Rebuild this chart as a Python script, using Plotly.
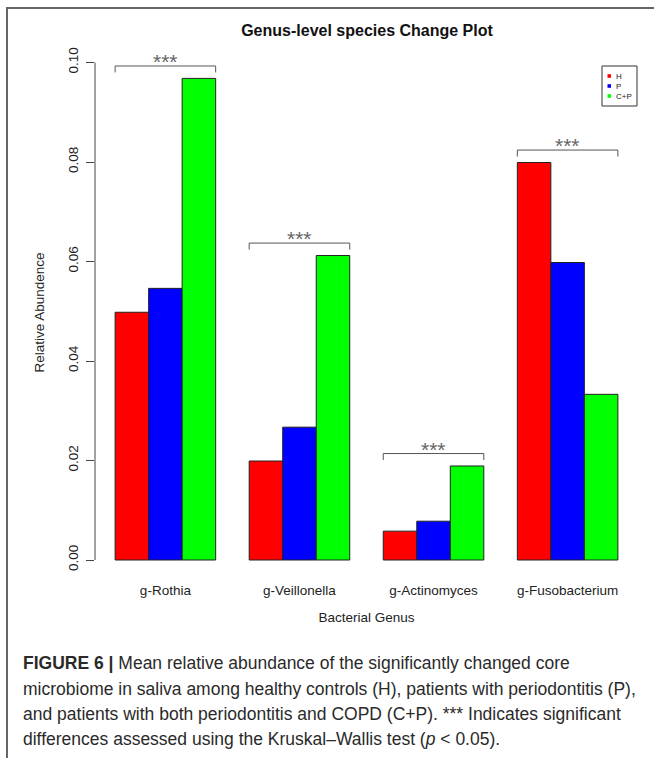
import plotly.graph_objects as go

# ---- data ----
categories = ["g-Rothia", "g-Veillonella", "g-Actinomyces", "g-Fusobacterium"]
series_names = ["H", "P", "C+P"]
H_vals = [0.0498, 0.0199, 0.0058, 0.0799]
P_vals = [0.0546, 0.0267, 0.0078, 0.0598]
CP_vals = [0.0968, 0.0612, 0.0189, 0.0333]
y_tickvals = [0.00, 0.02, 0.04, 0.06, 0.08, 0.10]
y_ticktext = ["0.00", "0.02", "0.04", "0.06", "0.08", "0.10"]
sig_label = "***"
title_text = "Genus-level species Change Plot"
caption_lines = [
    "<b>FIGURE 6 |</b> Mean relative abundance of the significantly changed core",
    "microbiome in saliva among healthy controls (H), patients with periodontitis (P),",
    "and patients with both periodontitis and COPD (C+P). *** Indicates significant",
    "differences assessed using the Kruskal–Wallis test (<i>p</i> &lt; 0.05).",
]

colors = ["#FF0000", "#0000FF", "#00FF00"]
series_vals = [H_vals, P_vals, CP_vals]

W, Hh = 654, 758
L, R, T, B = 95, 16, 45, 178
PW = W - L - R
PH = Hh - T - B
FONT = "Liberation Sans"


def pxx(px):
    return (px - L) / PW


def pxy(py):
    return (Hh - B - py) / PH


fig = go.Figure()
ngroups = len(categories)
nser = len(series_names)
for j, (name, vals, col) in enumerate(zip(series_names, series_vals, colors)):
    xs = [1.5 + (nser + 1) * g + j for g in range(ngroups)]
    fig.add_trace(go.Bar(
        x=xs, y=vals, width=1, name=name,
        marker=dict(color=col, line=dict(color="#222222", width=1)),
        showlegend=False,
    ))

group_centers = [1 + (nser + 1) * g + nser / 2 for g in range(ngroups)]

shapes = []
annotations = []

# significance brackets
for g in range(ngroups):
    top = max(v[g] for v in series_vals)
    by = top + 0.0025
    x0 = 1 + (nser + 1) * g
    x1 = x0 + nser
    tick = 0.0013
    shapes.append(dict(type="path", xref="x", yref="y",
                       path=f"M {x0} {by - tick} L {x0} {by} L {x1} {by} L {x1} {by - tick}",
                       line=dict(color="#555555", width=1)))
    annotations.append(dict(x=(x0 + x1) / 2, y=by, xref="x", yref="y", text=sig_label,
                            showarrow=False, yanchor="bottom", yshift=-9,
                            font=dict(size=21, color="#666666", family=FONT)))

# y axis line (R style: only between first and last tick)
shapes.append(dict(type="line", xref="paper", yref="y", x0=0, x1=0,
                   y0=y_tickvals[0], y1=y_tickvals[-1],
                   line=dict(color="#444444", width=1)))

# outer figure border (left & top visible)
shapes.append(dict(type="rect", xref="paper", yref="paper",
                   x0=pxx(7), x1=pxx(700), y0=pxy(800), y1=pxy(8),
                   line=dict(color="#666666", width=2)))

# manual legend
shapes.append(dict(type="rect", xref="paper", yref="paper",
                   x0=pxx(602), x1=pxx(637), y0=pxy(106), y1=pxy(66),
                   line=dict(color="#333333", width=1)))
leg_y = [76, 86, 96]
for name, col, ly in zip(series_names, colors, leg_y):
    shapes.append(dict(type="rect", xref="paper", yref="paper",
                       x0=pxx(607.5), x1=pxx(611), y0=pxy(ly + 1.8), y1=pxy(ly - 1.8),
                       line=dict(width=0), fillcolor=col))
    annotations.append(dict(x=pxx(614), y=pxy(ly), xref="paper", yref="paper",
                            text=name, showarrow=False, xanchor="left", yanchor="middle",
                            font=dict(size=8, color="#222222", family=FONT)))

# caption
cap_y = [663, 689, 714, 739]
for line, cy in zip(caption_lines, cap_y):
    annotations.append(dict(x=pxx(21), y=pxy(cy), xref="paper", yref="paper",
                            text=line, showarrow=False, xanchor="left", yanchor="middle",
                            font=dict(size=17.5, color="#2a2a2a", family=FONT)))

fig.update_layout(
    width=W, height=Hh,
    margin=dict(l=L, r=R, t=T, b=B),
    paper_bgcolor="white", plot_bgcolor="white",
    barmode="overlay",
    title=dict(text=f"<b>{title_text}</b>", x=367 / W, xanchor="center",
               y=1 - 30 / Hh, yanchor="middle",
               font=dict(size=16, color="#111111", family=FONT)),
    xaxis=dict(range=[0.4, 16.6], tickvals=group_centers, ticktext=categories,
               showline=False, showgrid=False, zeroline=False, ticks="",
               ticklabelstandoff=0,
               tickfont=dict(size=13.5, color="#222222", family=FONT),
               title=dict(text="Bacterial Genus", standoff=16,
                          font=dict(size=13.5, color="#222222", family=FONT))),
    yaxis=dict(range=[-(580 - 560) / 4975, 0.1 + (62.5 - 45) / 4975],
               tickvals=y_tickvals, ticktext=y_ticktext, tickangle=-90,
               showline=False, showgrid=False, zeroline=False,
               ticks="outside", ticklen=8, tickcolor="#444444", tickwidth=1,
               ticklabelstandoff=3,
               tickfont=dict(size=13.5, color="#222222", family=FONT),
               title=dict(text="Relative Abundence", standoff=17,
                          font=dict(size=13.5, color="#222222", family=FONT))),
    shapes=shapes,
    annotations=annotations,
)

fig.write_html("out.html")
